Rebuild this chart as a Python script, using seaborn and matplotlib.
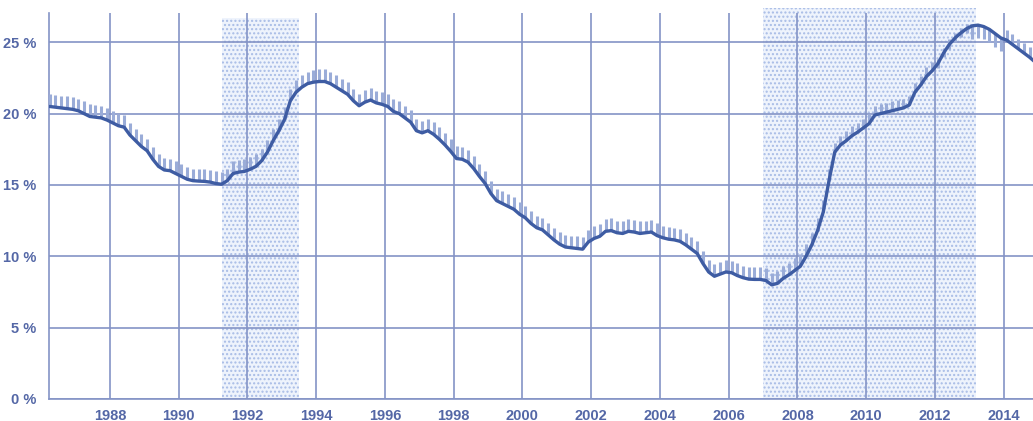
import numpy as np
import pandas as pd
import matplotlib
matplotlib.use("Agg")
import matplotlib.pyplot as plt
import seaborn as sns

# bimonthly readings (Feb, Apr, Jun, Aug, Oct, Dec); series starts Apr 1986
rate = [
    20.5, 20.45, 20.4, 20.35, 20.3,              # 1986
    20.2, 20.0, 19.8, 19.75, 19.7, 19.55,        # 1987
    19.35, 19.15, 19.05, 18.5, 18.1, 17.7,       # 1988
    17.4, 16.8, 16.3, 16.05, 16.0, 15.8,         # 1989
    15.6, 15.4, 15.3, 15.27, 15.25, 15.2,        # 1990
    15.1, 15.05, 15.3, 15.8, 15.9, 15.95,        # 1991
    16.1, 16.3, 16.7, 17.3, 18.1, 18.8,          # 1992
    19.6, 20.9, 21.5, 21.85, 22.1, 22.2,         # 1993
    22.25, 22.25, 22.1, 21.85, 21.6, 21.35,      # 1994
    20.9, 20.55, 20.8, 20.95, 20.75, 20.65,      # 1995
    20.5, 20.15, 20.0, 19.7, 19.4, 18.8,         # 1996
    18.65, 18.8, 18.55, 18.2, 17.8, 17.35,       # 1997
    16.85, 16.8, 16.6, 16.15, 15.6, 15.1,        # 1998
    14.4, 13.9, 13.7, 13.5, 13.3, 12.95,         # 1999
    12.7, 12.3, 12.0, 11.85, 11.5, 11.15,        # 2000
    10.85, 10.65, 10.6, 10.55, 10.5, 11.0,       # 2001
    11.25, 11.4, 11.75, 11.8, 11.65, 11.6,       # 2002
    11.75, 11.7, 11.6, 11.65, 11.7, 11.45,       # 2003
    11.3, 11.2, 11.15, 11.05, 10.8, 10.5,        # 2004
    10.2, 9.5, 8.9, 8.6, 8.75, 8.9,              # 2005
    8.85, 8.65, 8.5, 8.4, 8.38, 8.38,            # 2006
    8.3, 8.0, 8.1, 8.45, 8.7, 9.0,               # 2007
    9.3, 10.0, 10.8, 11.8, 13.1, 15.3,           # 2008
    17.3, 17.8, 18.1, 18.45, 18.7, 19.0,         # 2009
    19.3, 19.9, 20.0, 20.1, 20.2, 20.3,          # 2010
    20.4, 20.6, 21.5, 22.0, 22.6, 23.0,          # 2011
    23.5, 24.25, 24.85, 25.3, 25.65, 25.95,      # 2012
    26.15, 26.2, 26.1, 25.9, 25.6, 25.3,         # 2013
    25.15, 24.85, 24.55, 24.25, 23.95, 23.6,     # 2014
]
years = list(range(1986, 2015))
points_per_year = [5] + [6] * 28
months = [4, 6, 8, 10, 12] + [2, 4, 6, 8, 10, 12] * 28

# spread of the monthly bars above / below the line, per year
err_up_year = [0.85] * 23 + [0.65, 0.65, 0.65, 0.35, 0.0, 0.7]
err_lo_year = [0.0] * 23 + [0.0, 0.0, 0.0, 0.3, 0.9, 0.0]

# shaded periods
shade_start = [1991.25, 2007.0]
shade_end = [1993.5, 2013.2]
shade_top = [26.7, 27.4]

year_col = np.repeat(years, points_per_year)
df = pd.DataFrame({
    "t": year_col + (np.array(months) - 1) / 12,
    "rate": rate,
    "up": np.repeat(err_up_year, points_per_year),
    "lo": np.repeat(err_lo_year, points_per_year),
})

sns.set_style("white")
plt.rcParams["font.family"] = ["Liberation Sans", "DejaVu Sans"]

grid_c = "#8494c6"
text_c = "#5467a6"

fig = plt.figure(figsize=(10.33, 4.21), dpi=100)
ax = fig.add_axes([0.0474, 0.0523, 0.9526, 0.9168])

for s, e, top in zip(shade_start, shade_end, shade_top):
    ax.fill_between([s, e], 0, top, facecolor="#eef3fc", edgecolor="#a8bce6",
                    hatch="....", linewidth=0, zorder=1, clip_on=False)

ax.errorbar(df["t"], df["rate"], yerr=[df["lo"], df["up"]], fmt="none",
            ecolor="#9aacd8", elinewidth=2.2, capsize=0, zorder=3)
sns.lineplot(data=df, x="t", y="rate", ax=ax, color="#3e5ca3", lw=2.4, zorder=4)

ax.set_xlim(1986.23, 2014.85)
ax.set_ylim(0, 27.05)
ax.set_xticks(range(1988, 2015, 2))
ax.set_xticks(range(1987, 2015, 2), minor=True)
ax.set_yticks(range(0, 26, 5))
ax.set_yticklabels([f"{v} %" for v in range(0, 26, 5)])

ax.grid(True, which="major", color=grid_c, lw=1.2, zorder=2)
ax.set_axisbelow(False)
for side in ["top", "right"]:
    ax.spines[side].set_visible(False)
for side in ["left", "bottom"]:
    ax.spines[side].set_color(grid_c)
    ax.spines[side].set_linewidth(1.2)

ax.tick_params(axis="both", which="major", length=0, labelsize=10.5,
               labelcolor=text_c)
ax.tick_params(axis="x", which="major", pad=7)
ax.tick_params(axis="y", which="major", pad=9)
ax.tick_params(axis="x", which="minor", direction="in", length=4, width=1,
               color=grid_c)
for lab in ax.get_xticklabels() + ax.get_yticklabels():
    lab.set_fontweight("bold")

ax.set_xlabel("")
ax.set_ylabel("")

fig.savefig("out.png", dpi=100)
